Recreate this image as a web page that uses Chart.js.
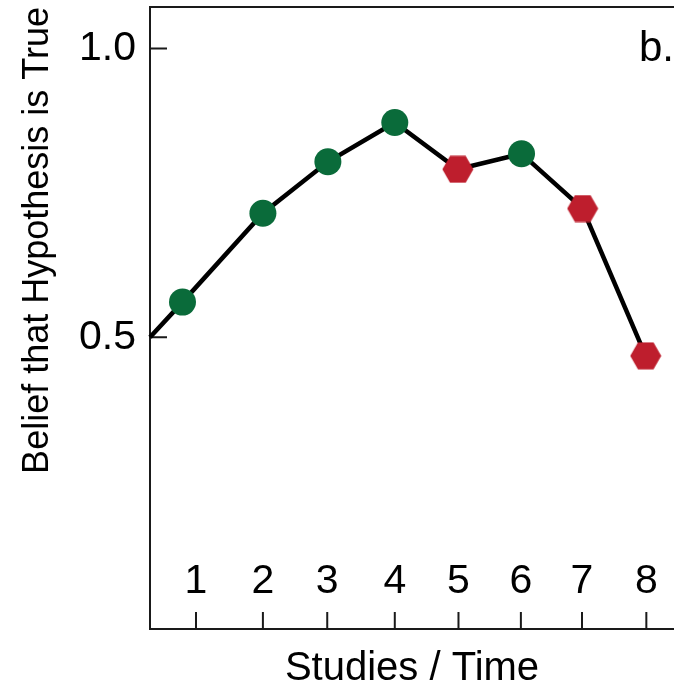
<!DOCTYPE html>
<html><head><meta charset="utf-8">
<script src="https://cdn.jsdelivr.net/npm/chart.js@4.4.0/dist/chart.umd.min.js"></script>
<style>html,body{margin:0;padding:0;background:#fff;overflow:hidden}#wrap{width:674px;height:687px;position:relative}</style>
</head><body><div id="wrap"><canvas id="c"></canvas></div>
<script>
// ---- data ----
const studyX = [0.285, 0.79, 2.04, 3.05, 4.09, 5.07, 6.06, 7.01, 7.99];
const belief = [0.5, 0.561, 0.715, 0.804, 0.872, 0.791, 0.818, 0.723, 0.468];
const outcome = ['start', 'pos', 'pos', 'pos', 'pos', 'neg', 'pos', 'neg', 'neg'];
const xTickPositions = [1.0, 2.04, 3.04, 4.09, 5.08, 6.05, 7.0, 8.0];
const xTickLabels = ['1', '2', '3', '4', '5', '6', '7', '8'];
const yTickValues = [0.5, 1.0];
const yTickLabels = ['0.5', '1.0'];
const panelLabel = 'b.';
const xTitle = 'Studies / Time';
const yTitle = 'Belief that Hypothesis is True';

const FONT = '"Liberation Sans", Arial, Helvetica, sans-serif';
const GREEN = '#0a6b3a';
const RED = '#be1e2d';
const AXIS = '#1a1a1a';
Chart.defaults.font.family = FONT;
Chart.defaults.color = '#000';

function hexagon(w, h, color) {
  const c = document.createElement('canvas');
  c.width = w; c.height = h;
  const g = c.getContext('2d');
  const cx = w / 2, cy = h / 2, r = w / 2 - 0.5, ry = h / 2 - 0.5;
  g.fillStyle = color;
  g.beginPath();
  for (let k = 0; k < 6; k++) {
    const a = k * Math.PI / 3;
    const px = cx + r * Math.cos(a);
    const py = cy + ry * Math.sin(a) / Math.sin(Math.PI / 3);
    if (k === 0) g.moveTo(px, py); else g.lineTo(px, py);
  }
  g.closePath();
  g.fill();
  return c;
}
const hex = hexagon(32, 28, RED);

function noPad(s) { s.paddingTop = 0; s.paddingBottom = 0; s.paddingLeft = 0; s.paddingRight = 0; }

const innerTicks = {
  id: 'innerTicks',
  beforeDatasetsDraw(chart) {
    const { ctx, chartArea: a, scales: { x, y } } = chart;
    ctx.save();
    ctx.strokeStyle = AXIS;
    ctx.lineWidth = 2;
    ctx.beginPath();
    x.ticks.forEach(t => { const px = x.getPixelForValue(t.value); ctx.moveTo(px, a.bottom); ctx.lineTo(px, a.bottom - 17); });
    y.ticks.forEach(t => { const py = y.getPixelForValue(t.value); ctx.moveTo(a.left, py); ctx.lineTo(a.left + 17, py); });
    ctx.stroke();
    ctx.restore();
  }
};
const panelText = {
  id: 'panelText',
  afterDraw(chart) {
    const { ctx, chartArea: a } = chart;
    ctx.save();
    ctx.fillStyle = '#000';
    ctx.font = '42px ' + FONT;
    ctx.textBaseline = 'alphabetic';
    ctx.textAlign = 'left';
    ctx.fillText(panelLabel, a.right - 35, a.top + 54);
    ctx.restore();
  }
};

const xMin = 0.285, xMax = 8.43;

new Chart(document.getElementById('c'), {
  type: 'line',
  data: {
    datasets: [{
      data: studyX.map((x, i) => ({ x: x, y: belief[i] })),
      borderColor: '#000',
      borderWidth: 4.5,
      tension: 0,
      fill: false,
      pointRadius: outcome.map(o => o === 'start' ? 0 : (o === 'pos' ? 13.5 : 15)),
      pointHoverRadius: outcome.map(o => o === 'start' ? 0 : (o === 'pos' ? 13.5 : 15)),
      pointStyle: outcome.map(o => o === 'neg' ? hex : 'circle'),
      pointBackgroundColor: outcome.map(o => o === 'neg' ? RED : GREEN),
      pointBorderWidth: 0,
      clip: false
    }]
  },
  options: {
    responsive: true,
    maintainAspectRatio: false,
    animation: false,
    events: [],
    layout: { autoPadding: false, padding: { top: 7, left: 0, right: 0, bottom: 0 } },
    plugins: { legend: { display: false }, tooltip: { enabled: false } },
    scales: {
      x: {
        type: 'linear', position: 'bottom', min: xMin, max: xMax,
        afterBuildTicks: s => { s.ticks = xTickPositions.map(v => ({ value: v })); },
        afterFit: s => { s.height = 58; noPad(s); },
        ticks: {
          callback: (v, i) => xTickLabels[i],
          color: '#000', font: { size: 41, lineHeight: 1.2 },
          mirror: true, padding: 22.4, maxRotation: 0, autoSkip: false
        },
        grid: { display: false, drawTicks: false },
        border: { display: true, color: AXIS, width: 2 },
        title: { display: true, text: xTitle, color: '#000', font: { size: 40, lineHeight: 1 }, padding: { top: 0, bottom: -2 } }
      },
      xTop: {
        type: 'linear', position: 'top', min: xMin, max: xMax, display: true,
        ticks: { display: false },
        grid: { display: false, drawTicks: false },
        border: { display: true, color: AXIS, width: 2 },
        afterFit: s => { s.height = 0; noPad(s); }
      },
      y: {
        type: 'linear', position: 'left', min: -0.005, max: 1.072,
        afterBuildTicks: s => { s.ticks = yTickValues.map(v => ({ value: v })); },
        afterFit: s => { s.width = 150; noPad(s); },
        ticks: { callback: (v, i) => yTickLabels[i], color: '#000', font: { size: 41, lineHeight: 1.2 }, padding: 14 },
        grid: { display: false, drawTicks: false },
        border: { display: true, color: AXIS, width: 2 },
        title: { display: true, text: yTitle, align: 'end', color: '#000', font: { size: 36, lineHeight: 1.2 }, padding: { top: 16.4, bottom: 0 } }
      }
    }
  },
  plugins: [innerTicks, panelText]
});
</script>
</body></html>
